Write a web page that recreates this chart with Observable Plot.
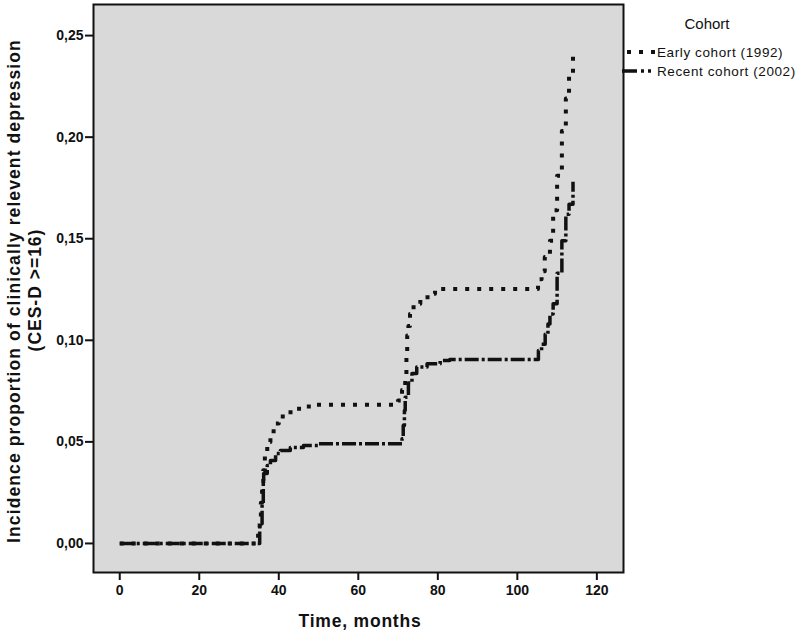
<!DOCTYPE html>
<html>
<head>
<meta charset="utf-8">
<script src="https://cdn.jsdelivr.net/npm/d3@7"></script>
<script src="https://cdn.jsdelivr.net/npm/@observablehq/plot@0.6"></script>
<style>
  html, body { margin: 0; padding: 0; background: #fff; }
  #wrap { position: relative; width: 800px; height: 636px; overflow: hidden; font-family: "Liberation Sans", Arial, sans-serif; color: #111; }
  #wrap svg { display: block; }
  .ytitle { position: absolute; white-space: nowrap; font-weight: bold; font-size: 17.5px; transform: translate(-50%, -50%) rotate(-90deg); line-height: 1; }
  .xtitle { position: absolute; white-space: nowrap; font-weight: bold; font-size: 17.5px; letter-spacing: 0.8px; transform: translate(-50%, 0); line-height: 1; }
  #legend { position: absolute; left: 0; top: 0; }
</style>
</head>
<body>
<div id="wrap"></div>
<script>
// ---- data ----
const xTicks = [0, 20, 40, 60, 80, 100, 120];
const yTicks = [0, 0.05, 0.10, 0.15, 0.20, 0.25];
const seriesNames = ["Early cohort (1992)", "Recent cohort (2002)"];
const legendTitle = "Cohort";
const xTitle = "Time, months";
const yTitle1 = "Incidence proportion of clinically relevent depression";
const yTitle2 = "(CES-D >=16)";

// Early cohort (1992): time (months) -> cumulative incidence
const earlyTime  = [0, 34.5, 34.8, 35.2, 35.5, 35.8, 36.1, 36.5, 37.1, 37.9, 38.7, 40.0, 42.1, 44.2, 46.7, 49.6, 70.0, 71.0, 71.8, 72.1, 72.3, 72.6, 73.0, 73.9, 75.6, 78.1, 79.3, 105.2, 106.1, 106.9, 108.2, 109.0, 110.0, 111.2, 112.2, 113.0, 114.0];
const earlyValue = [0, 0, 0.005, 0.012, 0.020, 0.028, 0.036, 0.044, 0.050, 0.054, 0.059, 0.0625, 0.0646, 0.0663, 0.0674, 0.0683, 0.0704, 0.0755, 0.083, 0.093, 0.1024, 0.107, 0.113, 0.118, 0.1212, 0.1229, 0.1253, 0.130, 0.134, 0.141, 0.149, 0.164, 0.181, 0.203, 0.219, 0.230, 0.240];

// Recent cohort (2002)
const recentTime  = [0, 34.5, 35.2, 35.8, 36.1, 36.2, 37.1, 37.9, 39.2, 40.4, 42.9, 46.2, 50.0, 71.0, 71.3, 71.6, 71.8, 72.6, 73.5, 74.7, 77.3, 80.6, 83.0, 105.3, 106.1, 107.0, 107.7, 108.2, 109.0, 110.0, 111.2, 112.2, 113.0, 114.0];
const recentValue = [0, 0, 0.0097, 0.0197, 0.030, 0.0344, 0.0384, 0.0408, 0.0443, 0.0458, 0.0472, 0.0482, 0.0491, 0.0515, 0.058, 0.0655, 0.072, 0.079, 0.0837, 0.0868, 0.0884, 0.0900, 0.0906, 0.095, 0.098, 0.103, 0.108, 0.113, 0.118, 0.133, 0.149, 0.162, 0.167, 0.178];

const early = earlyTime.map((t, i) => ({time: t, value: earlyValue[i]}));
const recent = recentTime.map((t, i) => ({time: t, value: recentValue[i]}));

const fmt = d => d.toFixed(2).replace(".", ",");

const chart = Plot.plot({
  width: 800,
  height: 636,
  marginLeft: 93,
  marginRight: 177,
  marginTop: 4,
  marginBottom: 64,
  style: {fontFamily: "'Liberation Sans', Arial, sans-serif", fontSize: "14px", fontWeight: "bold", color: "#111", background: "#fff"},
  x: {domain: [-6.6, 126.7]},
  y: {domain: [-0.0143, 0.2653]},
  marks: [
    Plot.frame({fill: "#d9d9d9", stroke: null}),
    Plot.axisX({ticks: xTicks, tickSize: 8, tickPadding: 5, label: null, strokeWidth: 2, tickFormat: d => String(d)}),
    Plot.axisY({ticks: yTicks, tickSize: 8, tickPadding: 2, label: null, strokeWidth: 2, tickFormat: fmt}),
    Plot.line(early, {x: "time", y: "value", curve: "step-after", stroke: "#111", strokeWidth: 4, strokeDasharray: "4,8", strokeLinecap: "butt"}),
    Plot.line(recent, {x: "time", y: "value", curve: "step-after", stroke: "#111", strokeWidth: 3.5, strokeDasharray: "14,3,3,3", strokeLinecap: "butt"}),
    Plot.frame({stroke: "#111", strokeWidth: 2})
  ]
});

const wrap = document.getElementById("wrap");
wrap.appendChild(chart);

// axis titles
const yt1 = document.createElement("div");
yt1.className = "ytitle"; yt1.textContent = yTitle1;
yt1.style.left = "15px"; yt1.style.top = "291px"; yt1.style.letterSpacing = "1.1px";
wrap.appendChild(yt1);
const yt2 = document.createElement("div");
yt2.className = "ytitle"; yt2.textContent = yTitle2;
yt2.style.left = "36px"; yt2.style.top = "290px"; yt2.style.letterSpacing = "1px";
wrap.appendChild(yt2);
const xt = document.createElement("div");
xt.className = "xtitle"; xt.textContent = xTitle;
xt.style.left = "360px"; xt.style.top = "613px";
wrap.appendChild(xt);

// legend
const ns = "http://www.w3.org/2000/svg";
const lg = document.createElementNS(ns, "svg");
lg.setAttribute("id", "legend");
lg.setAttribute("width", 800); lg.setAttribute("height", 100);
lg.style.position = "absolute"; lg.style.left = "0"; lg.style.top = "0";
function txt(x, y, s, size, anchor, ls) {
  const t = document.createElementNS(ns, "text");
  t.setAttribute("x", x); t.setAttribute("y", y);
  t.setAttribute("font-family", "'Liberation Sans', Arial, sans-serif");
  t.setAttribute("font-size", size);
  t.setAttribute("fill", "#111");
  t.setAttribute("text-anchor", anchor);
  if (ls) t.setAttribute("letter-spacing", ls);
  t.textContent = s;
  lg.appendChild(t);
}
function seg(x1, x2, y, dash, w) {
  const l = document.createElementNS(ns, "line");
  l.setAttribute("x1", x1); l.setAttribute("x2", x2);
  l.setAttribute("y1", y); l.setAttribute("y2", y);
  l.setAttribute("stroke", "#111"); l.setAttribute("stroke-width", w);
  l.setAttribute("stroke-dasharray", dash);
  lg.appendChild(l);
}
txt(707, 28.5, legendTitle, 15, "middle");
seg(627, 656, 52, "4,8", 4);
seg(622, 654, 71, "15,4,3,4,3,4", 3.5);
txt(657, 56.5, seriesNames[0], 13.5, "start", "0.6");
txt(657, 75.5, seriesNames[1], 13.5, "start", "0.6");
wrap.appendChild(lg);
</script>
</body>
</html>
